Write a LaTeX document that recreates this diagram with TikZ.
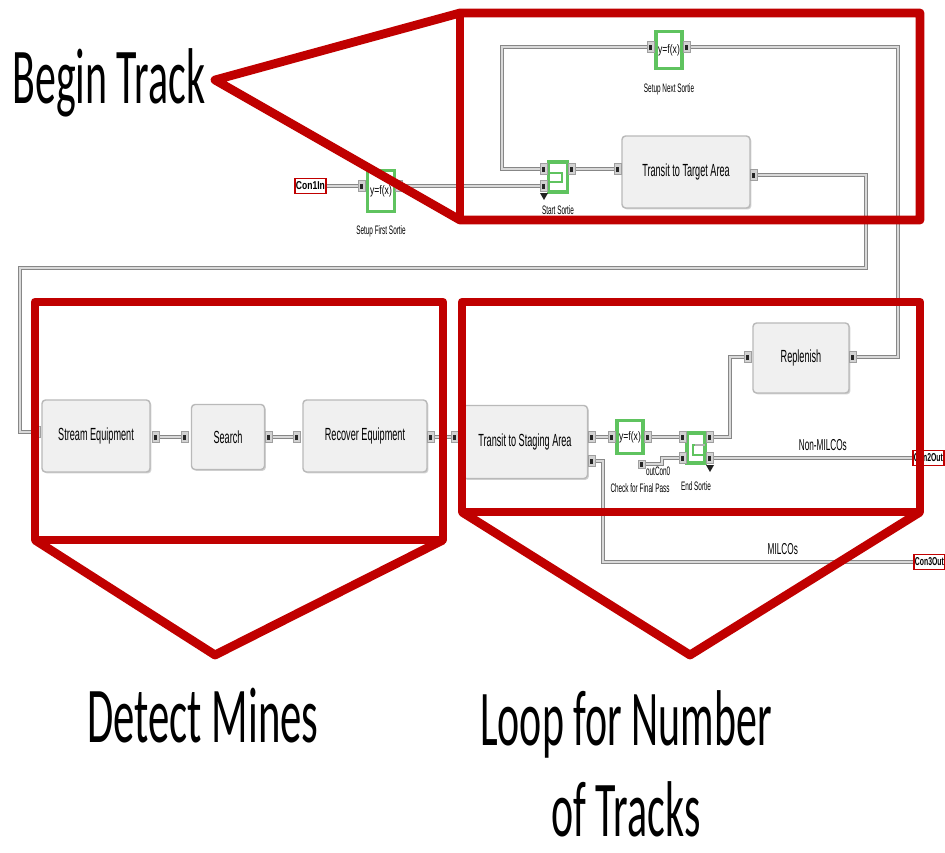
\documentclass[tikz,border=0pt]{standalone}
\usepackage{fontspec}
\setmainfont{Liberation Sans}
\newfontfamily\calfont{Carlito}
\usetikzlibrary{positioning,calc,shadows}
\definecolor{callred}{RGB}{192,0,0}
\definecolor{fungreen}{RGB}{95,195,95}
\definecolor{wiregray}{RGB}{135,135,135}
\newcommand{\narrow}[2][0.52]{\scalebox{#1}[1]{#2}}

\begin{document}
\begin{tikzpicture}[
  x=0.02cm, y=-0.02cm,
  block/.style={draw=gray!55, fill=gray!12, rounded corners=2pt, line width=0.8pt, font=\fontsize{10}{12}\selectfont,
    drop shadow={shadow xshift=0.8pt, shadow yshift=-0.8pt, opacity=0.35}},
  fun/.style={draw=fungreen, line width=1.8pt, fill=white, inner sep=0pt, font=\fontsize{7}{8}\selectfont},
  port/.style={draw=gray!75, fill=gray!35, minimum width=0.14cm, minimum height=0.22cm, inner sep=0pt,
    path picture={\fill[gray!30!black] ($(path picture bounding box.center)+(-0.035cm,-0.05cm)$) rectangle ++(0.06cm,0.1cm);}},
  con/.style={draw=callred, line width=1pt, fill=white, anchor=west, inner sep=0.6pt, minimum height=0.3cm,
    font=\fontsize{6.5}{7}\selectfont\bfseries},
  tag/.style={font=\fontsize{7}{8}\selectfont, inner sep=1pt},
  flow/.style={font=\fontsize{9}{10}\selectfont, inner sep=1pt},
  wire/.style={draw=wiregray, line width=0.6pt, double=gray!30, double distance=0.8pt},
  pointer/.style={fill=gray!25!black},
  call/.style={draw=callred, line width=5pt, line join=round},
  big/.style={font=\calfont\fontsize{45}{50}\selectfont, inner sep=0pt, text depth=0pt, anchor=base}
]
\useasboundingbox (0,0) rectangle (945,852);
\clip (0,0) rectangle (945,852);
\fill[white] (0,0) rectangle (945,852);

% main blocks
\node[block, minimum width=2.56cm, minimum height=1.44cm] (tt) at (686,172) {\narrow{Transit to Target Area}};
\node[block, minimum width=2.16cm, minimum height=1.44cm] (se) at (96,436) {\narrow{Stream Equipment}};
\node[block, minimum width=1.46cm, minimum height=1.30cm] (sr) at (228,437) {\narrow{Search}};
\node[block, minimum width=2.48cm, minimum height=1.44cm] (re) at (365,436) {\narrow{Recover Equipment}};
\node[block, minimum width=2.50cm, minimum height=1.46cm] (ts) at (525,442) {\narrow{Transit to Staging Area}};
\node[block, minimum width=1.92cm, minimum height=1.40cm] (rp) at (801,358) {\narrow{Replenish}};

% equation and gate blocks
\node[fun, minimum width=0.52cm, minimum height=0.74cm] (sn) at (669,50) {\narrow[0.7]{y=f(x)}};
\node[fun, minimum width=0.54cm, minimum height=0.82cm] (sf) at (381,191) {\narrow[0.7]{y=f(x)}};
\node[fun, minimum width=0.38cm, minimum height=0.60cm] (st) at (558,177) {};
\node[fun, minimum width=0.52cm, minimum height=0.66cm] (cf) at (630,437) {\narrow[0.7]{y=f(x)}};
\node[fun, minimum width=0.36cm, minimum height=0.60cm] (es) at (696,448) {};
\draw[fungreen, line width=1.2pt] (550,173) -- (562,173) -- (562,182) -- (550,182);
\draw[fungreen, line width=1.2pt] (705,445) -- (693,445) -- (693,455) -- (705,455);
\draw[gray!60, line width=1pt] (705,445) -- (695,445);

\node[tag, below=0.22cm of sn] (sn-lab) {\narrow{Setup Next Sortie}};
\node[tag, below=0.2cm of sf] (sf-lab) {\narrow{Setup First Sortie}};
\node[tag, below=0.2cm of st] (st-lab) {\narrow{Start Sortie}};
\node[tag, below=0.52cm of cf, xshift=0.2cm] (cf-lab) {\narrow{Check for Final Pass}};
\node[tag, below=0.3cm of es] (es-lab) {\narrow{End Sortie}};
\node[tag, anchor=west] (oc-lab) at (644,471) {\narrow{outCon0}};

% connectors in and out
\node[con] (con1in) at (294,186) {\narrow[0.75]{Con1In}};
\node[con] (con2out) at (912,458) {\narrow[0.6]{Con2Out}};
\node[con] (con3out) at (913,562) {\narrow[0.6]{Con3Out}};

% ports
\node[port] (sf-in) at (362,186) {};
\node[port] (sf-out) at (399,186) {};
\node[port] (sn-in) at (651,47) {};
\node[port] (sn-out) at (687,47) {};
\node[port] (st-in1) at (544,169) {};
\node[port] (st-in2) at (544,186) {};
\node[port] (st-out) at (572,169) {};
\node[port] (tt-in) at (618,169) {};
\node[port] (tt-out) at (754,175) {};
\node[port] (se-in) at (37,432) {};
\node[port] (se-out) at (156,437) {};
\node[port] (sr-in) at (185,437) {};
\node[port] (sr-out) at (269,437) {};
\node[port] (re-in) at (297,437) {};
\node[port] (re-out) at (431,437) {};
\node[port] (ts-in) at (455,437) {};
\node[port] (ts-out) at (592,437) {};
\node[port] (ts-out2) at (592,461) {};
\node[port] (cf-in) at (612,437) {};
\node[port] (cf-out) at (648,437) {};
\node[port, minimum height=0.16cm] (cf-oc) at (642,464) {};
\node[port] (es-in1) at (683,437) {};
\node[port] (es-in2) at (683,458) {};
\node[port] (es-out1) at (710,437) {};
\node[port] (es-out2) at (710,458) {};
\node[port] (rp-in) at (748,357) {};
\node[port] (rp-out) at (853,357) {};

\fill[pointer] (540,193) -- (548,193) -- (544,200) -- cycle;
\fill[pointer] (706,465) -- (714,465) -- (710,472) -- cycle;

% bend points
\coordinate (bendA) at (866,268);
\coordinate (bendB) at (20,268);
\coordinate (bendC) at (502,47);
\coordinate (bendD) at (662,464);
\coordinate (bendE) at (730,437);
\coordinate (bendF) at (898,47);
\coordinate (bendG) at (603,461);

% wires
\draw[wire] (con1in) -- (sf-in);
\draw[wire] (sf-out) -- (st-in2);
\draw[wire] (sn-in) -- (bendC) |- (st-in1);
\draw[wire] (st-out) -- (tt-in);
\draw[wire] (tt-out) -| (bendA) -- (bendB) |- (se-in);
\draw[wire] (se-out) -- (sr-in);
\draw[wire] (sr-out) -- (re-in);
\draw[wire] (re-out) -- (ts-in);
\draw[wire] (ts-out) -- (cf-in);
\draw[wire] (cf-out) -- (es-in1);
\draw[wire] (cf-oc) -- (bendD) |- (es-in2);
\draw[wire] (es-out1) -- (bendE) |- (rp-in);
\draw[wire] (rp-out) -| (bendF) -- (sn-out);
\draw[wire] (es-out2) -- node[flow, above=3pt, pos=0.55] (nonmil) {\narrow{Non-MILCOs}} (con2out);
\draw[wire] (ts-out2) -- (bendG) |- node[flow, above=3pt, pos=0.79] (mil) {\narrow{MILCOs}} (con3out);

% callouts
\draw[call] (215,80) -- (460,13) -- (920,13) -- (920,220) -- (460,220) -- cycle;
\draw[call] (460,13) -- (460,220);
\draw[call] (35,302) rectangle (443,540);
\draw[call] (35,540) -- (215,655) -- (443,540);
\draw[call] (462,302) rectangle (920,512);
\draw[call] (462,512) -- (690,655) -- (920,512);

\node[big, anchor=base west] (begin) at (12,103) {\narrow[0.53]{Begin Track}};
\node[big] (detect) at (203,742) {\narrow[0.54]{Detect Mines}};
\node[big] (loop) at (626,745) {\narrow[0.53]{Loop for Number}};
\node[big] (tracks) at (626,836) {\narrow[0.53]{of Tracks}};
\end{tikzpicture}
\end{document}
